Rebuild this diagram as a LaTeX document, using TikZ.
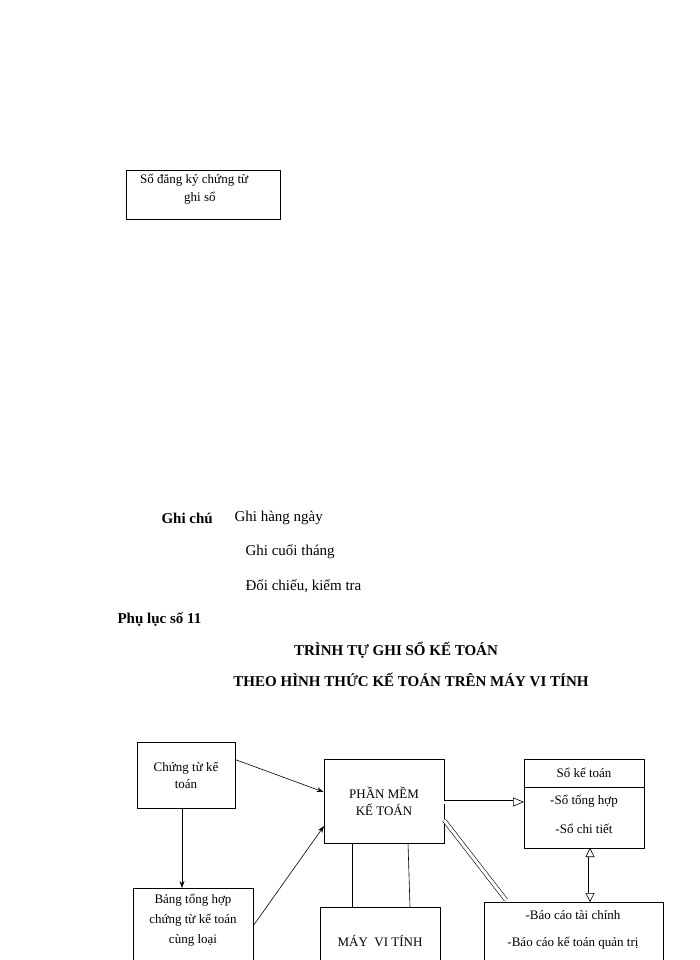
\documentclass[tikz,border=0pt]{standalone}
\usepackage{fontspec}
\setmainfont{Liberation Serif}
\usetikzlibrary{arrows.meta}
\begin{document}
\begin{tikzpicture}[x=1pt,y=-1pt,
  box/.style={draw,line width=0.8pt,align=center,inner sep=0pt,font=\fontsize{13}{17}\selectfont},
  lbl/.style={anchor=west,font=\fontsize{15}{18}\selectfont},
  arr/.style={-{Stealth[length=7pt,width=5pt]},line width=0.6pt},
  dbl/.style={double,double distance=3pt,line width=0.6pt}]
\useasboundingbox (0,0) rectangle (700,960);
\clip (0,0) rectangle (700,960);
\node[box,minimum width=154pt,minimum height=49pt,anchor=north west] (reg) at (126,170) {};
\node[anchor=north west,align=left,font=\fontsize{13}{18}\selectfont,inner sep=0pt] (regt) at (140,174) {Sổ đăng ký chứng từ\\\hspace*{44pt}ghi sổ};
\node[lbl,font=\fontsize{15}{18}\selectfont\bfseries] (gc) at (158,518) {Ghi chú};
\node[lbl] (g1) at (231,518) {Ghi hàng ngày};
\node[lbl] (g2) at (242,552) {Ghi cuối tháng};
\node[lbl] (g3) at (242,586) {Đối chiếu, kiểm tra};
\node[lbl,font=\fontsize{15}{18}\selectfont\bfseries] (pl) at (114,620) {Phụ lục số 11};
\node[font=\fontsize{15}{18}\selectfont\bfseries] (t1) at (396,650) {TRÌNH TỰ GHI SỔ KẾ TOÁN};
\node[font=\fontsize{15}{18}\selectfont\bfseries] (t2) at (411,680) {THEO HÌNH THỨC KẾ TOÁN TRÊN MÁY VI TÍNH};
\node[box,minimum width=98pt,minimum height=66pt] (ct) at (186,775) {Chứng từ kế\\toán};
\node[box,minimum width=120pt,minimum height=80pt,anchor=north west] (bth) at (133,888) {};
\node[align=center,font=\fontsize{13}{20}\selectfont,inner sep=0pt] (btht) at (193,920) {Bảng tổng hợp\\chứng từ kế toán\\cùng loại};
\node[box,minimum width=120pt,minimum height=84pt] (pm) at (384,801) {PHẦN MỀM\\KẾ TOÁN};
\node[box,minimum width=120pt,minimum height=64pt,anchor=north west] (mvt) at (320,907) {};
\node[font=\fontsize{13}{17}\selectfont] (mvtt) at (380,941) {MÁY\ \ VI TÍNH};
\node[box,minimum width=120pt,minimum height=89pt] (skt) at (584,803.5) {};
\draw[line width=0.8pt] (524,787) -- (644,787);
\node[font=\fontsize{13}{17}\selectfont] (skt1) at (584,773) {Sổ kế toán};
\node[font=\fontsize{13}{17}\selectfont] (skt2) at (584,801) {-Sổ tổng hợp};
\node[font=\fontsize{13}{17}\selectfont] (skt3) at (584,829) {-Sổ chi tiết};
\node[box,minimum width=179pt,minimum height=70pt,anchor=north west] (bc) at (484,902) {};
\node[font=\fontsize{13}{17}\selectfont] (bc1) at (573,915) {-Báo cáo tài chính};
\node[font=\fontsize{13}{17}\selectfont] (bc2) at (573,943) {-Báo cáo kế toán quản trị};
\draw[arr] (ct.north east)++(0,18) -- (pm.west |- 0,792);
\draw[arr] (ct.south) ++(-4,0) coordinate (c1) -- (c1 |- bth.north);
\draw[arr] (bth.east |- 0,925) -- (324,826);
\draw[line width=0.6pt] (352,843) -- (352,907);
\draw[line width=0.6pt] (408,843) -- (410,907);
\draw[dbl,-{Triangle[open,length=11pt,width=9pt]}] (444,802) -- (524,802);
\draw[dbl] (444,820) -- (506,900);
\draw[dbl,{Triangle[open,length=9pt,width=9pt]}-{Triangle[open,length=9pt,width=9pt]}] (590,848) -- (590,902);
\end{tikzpicture}
\end{document}
